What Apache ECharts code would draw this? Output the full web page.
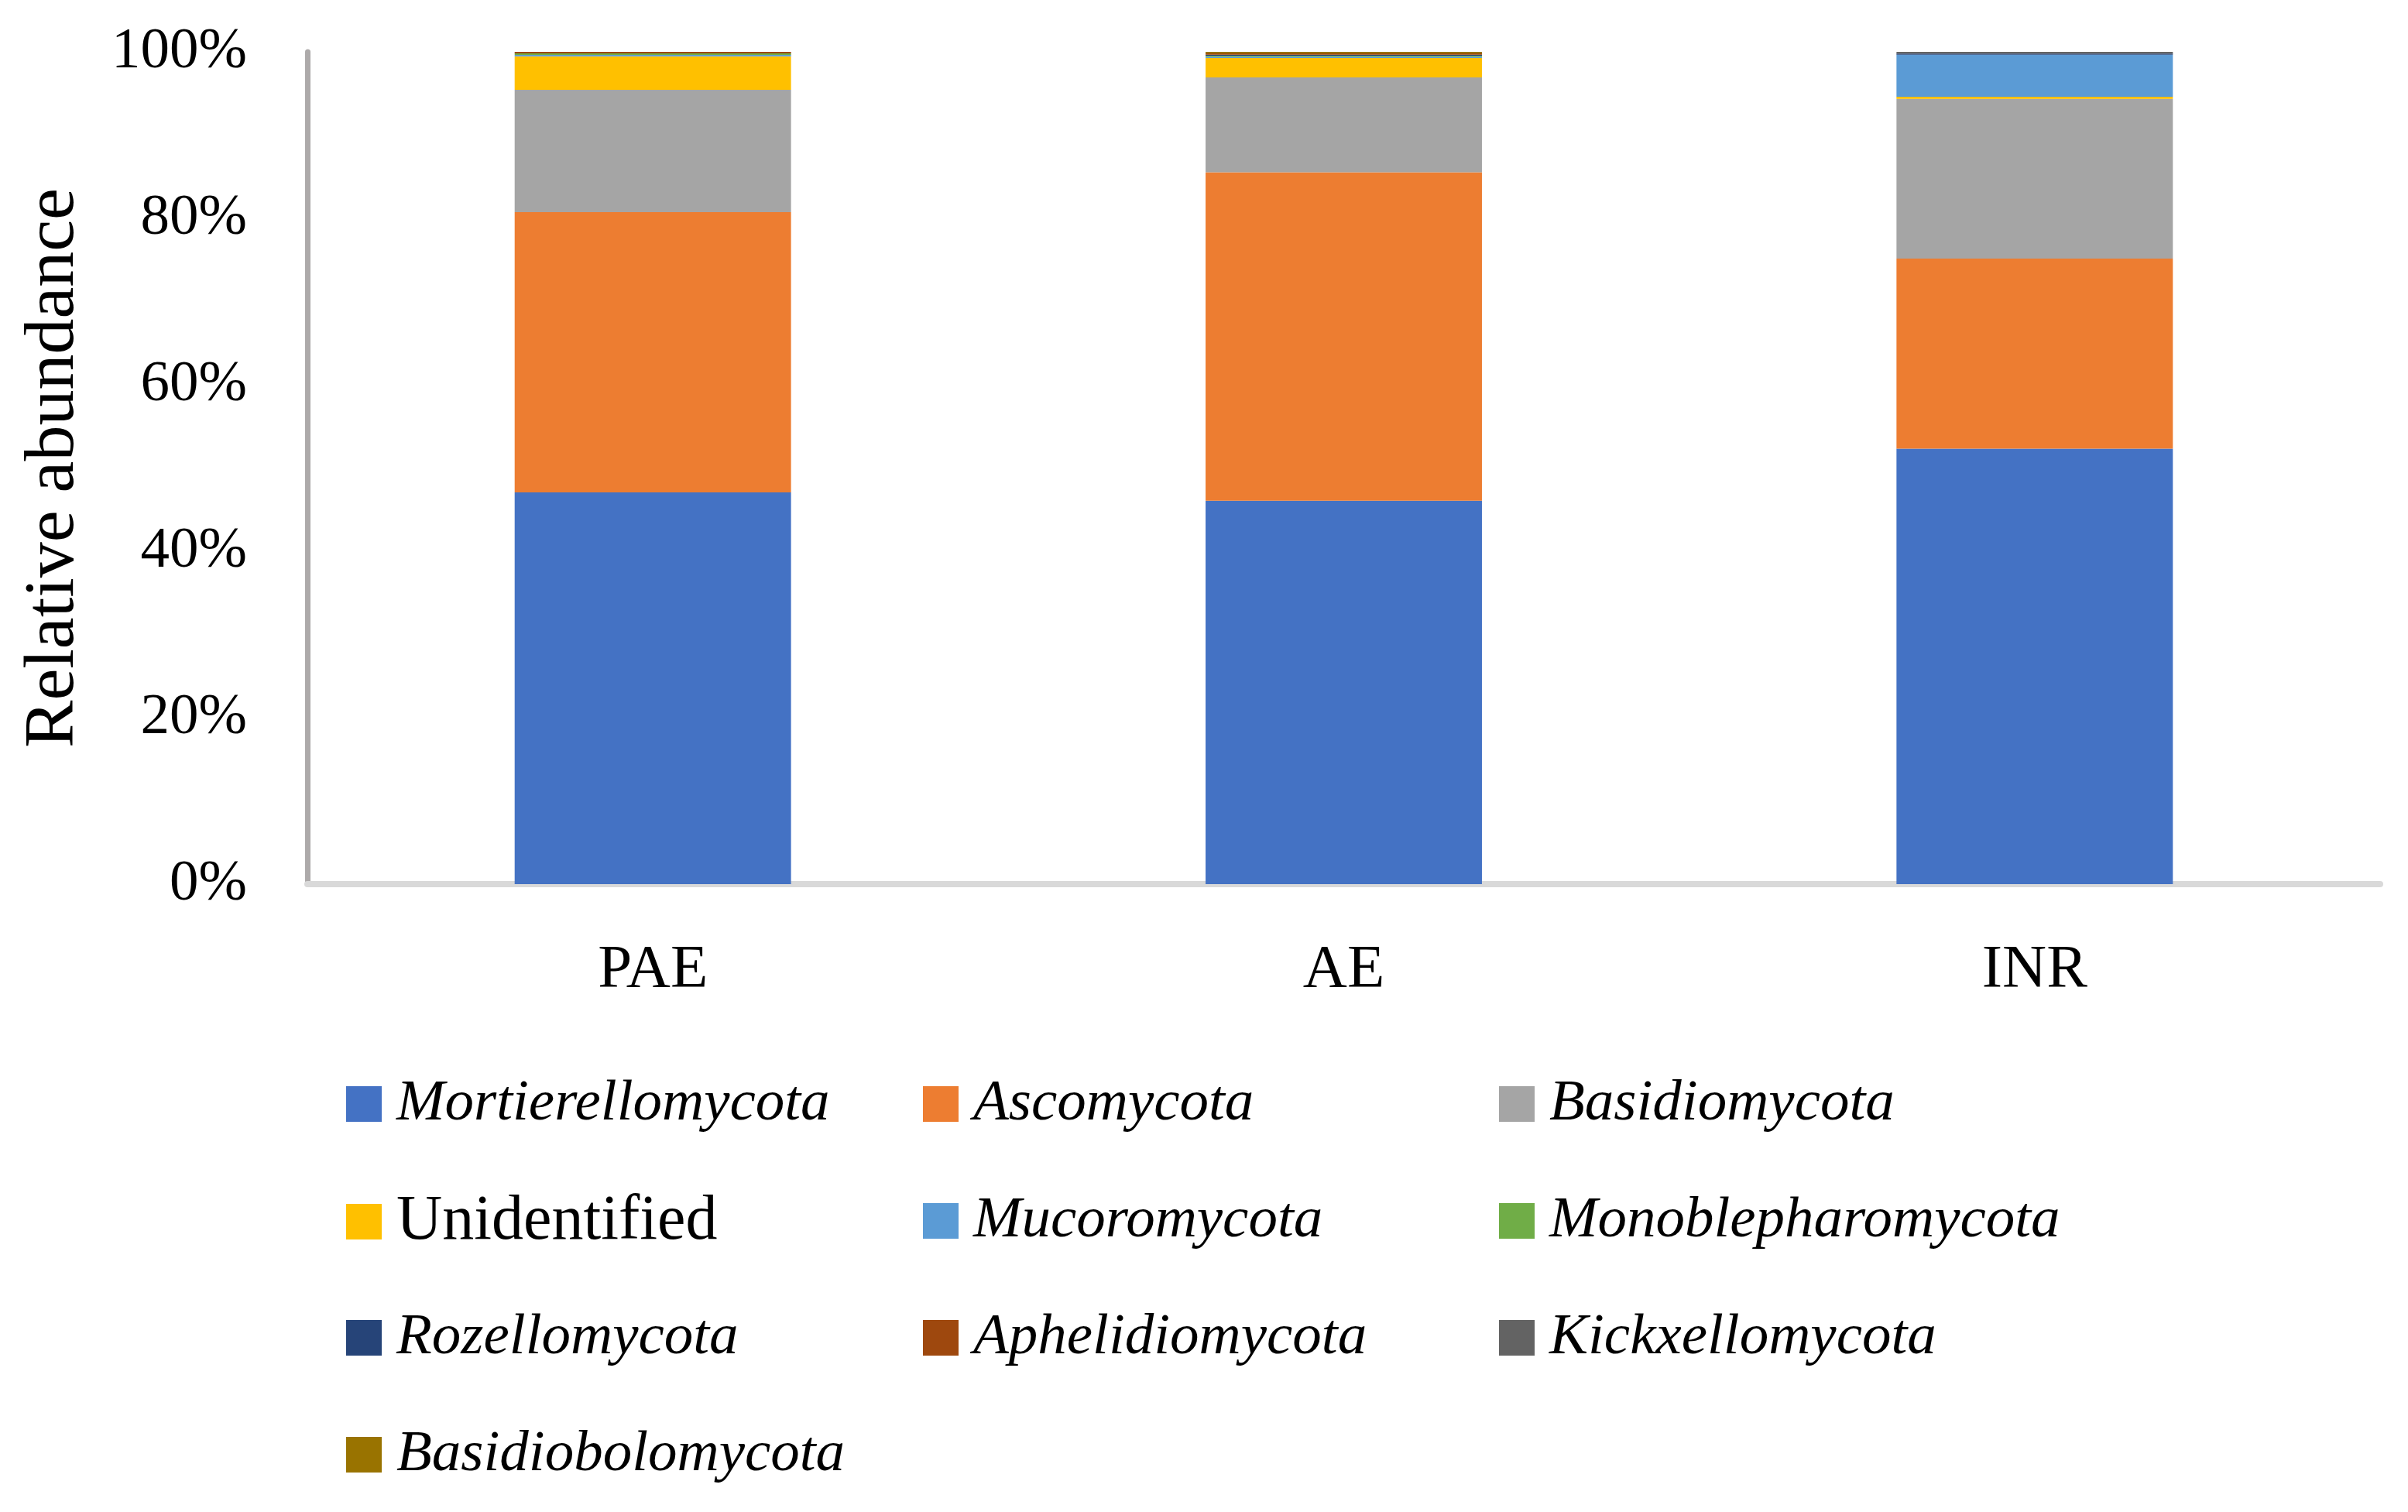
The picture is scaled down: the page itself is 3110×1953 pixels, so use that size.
<!DOCTYPE html>
<html>
<head>
<meta charset="utf-8">
<script src="https://cdn.jsdelivr.net/npm/echarts@6/dist/echarts.min.js"></script>
<style>
html,body{margin:0;padding:0;background:#fff;}
#chart{width:3110px;height:1953px;}
</style>
</head>
<body>
<div id="chart"></div>
<script>
const categories = ['PAE', 'AE', 'INR'];
const yTicks = [0, 20, 40, 60, 80, 100];
const seriesNames = ['Mortierellomycota', 'Ascomycota', 'Basidiomycota', 'Unidentified', 'Mucoromycota', 'Monoblepharomycota', 'Rozellomycota', 'Aphelidiomycota', 'Kickxellomycota', 'Basidiobolomycota'];
const mortierellomycota = [47.07, 46.07, 52.32];
const ascomycota = [33.68, 39.46, 22.84];
const basidiomycota = [14.69, 11.40, 19.20];
const unidentified = [4.03, 2.33, 0.24];
const mucoromycota = [0.16, 0.16, 5.05];
const monoblepharomycota = [0.18, 0.12, 0];
const rozellomycota = [0, 0.10, 0.13];
const aphelidiomycota = [0.19, 0.18, 0];
const kickxellomycota = [0, 0, 0.21];
const basidiobolomycota = [0, 0.19, 0];

const seriesValues = [mortierellomycota, ascomycota, basidiomycota, unidentified, mucoromycota, monoblepharomycota, rozellomycota, aphelidiomycota, kickxellomycota, basidiobolomycota];
const colors = ['#4472C4', '#ED7D31', '#A5A5A5', '#FFC000', '#5B9BD5', '#70AD47', '#264478', '#9E480E', '#636363', '#997300'];

const FONT = '"Liberation Serif", "Times New Roman", serif';

const legendLeft = [447, 1192, 1936];
const legendRowCenter = [1426, 1577, 1728, 1879];

const legends = seriesNames.map((name, i) => {
  const col = i % 3, row = Math.floor(i / 3);
  return {
    orient: 'horizontal',
    left: legendLeft[col],
    top: legendRowCenter[row] - 40,
    data: [name],
    icon: 'rect',
    itemWidth: 46,
    itemHeight: 46,
    selectedMode: false,
    padding: 0,
    formatter: n => n === 'Unidentified' ? '{n|' + n + '}' : '{i|' + n + '}',
    textStyle: {
      rich: {
        i: { fontFamily: FONT, fontStyle: 'italic', fontSize: 75, color: '#000', height: 80, lineHeight: 80, padding: [0, 0, 0, 14] },
        n: { fontFamily: FONT, fontSize: 82, color: '#000', height: 80, lineHeight: 80, padding: [0, 0, 0, 14] }
      }
    }
  };
});

const option = {
  animation: false,
  backgroundColor: '#fff',
  color: colors,
  grid: { left: 397, right: 36, top: 67, bottom: 811, containLabel: false },
  legend: legends,
  xAxis: {
    type: 'category',
    data: categories,
    axisLine: { show: true, lineStyle: { color: '#D9D9D9', width: 8 } },
    axisTick: { show: false },
    axisLabel: { fontFamily: FONT, fontSize: 79, color: '#000', margin: 72 }
  },
  yAxis: {
    type: 'value',
    min: 0,
    max: 100,
    interval: 20,
    name: 'Relative abundance',
    nameLocation: 'middle',
    nameGap: 281,
    nameTextStyle: { fontFamily: FONT, fontSize: 92, color: '#000' },
    axisLine: { show: true, lineStyle: { color: '#ADAAAA', width: 7 } },
    axisTick: { show: false },
    splitLine: { show: false },
    axisLabel: {
      fontFamily: FONT, fontSize: 75, color: '#000', margin: 78,
      formatter: v => yTicks.includes(v) ? v + '%' : ''
    }
  },
  series: seriesNames.map((name, i) => ({
    name: name,
    type: 'bar',
    stack: 'total',
    barWidth: '40%',
    data: seriesValues[i],
    itemStyle: { color: colors[i] }
  }))
};

const chart = echarts.init(document.getElementById('chart'), null, { renderer: 'canvas' });
chart.setOption(option);
</script>
</body>
</html>
